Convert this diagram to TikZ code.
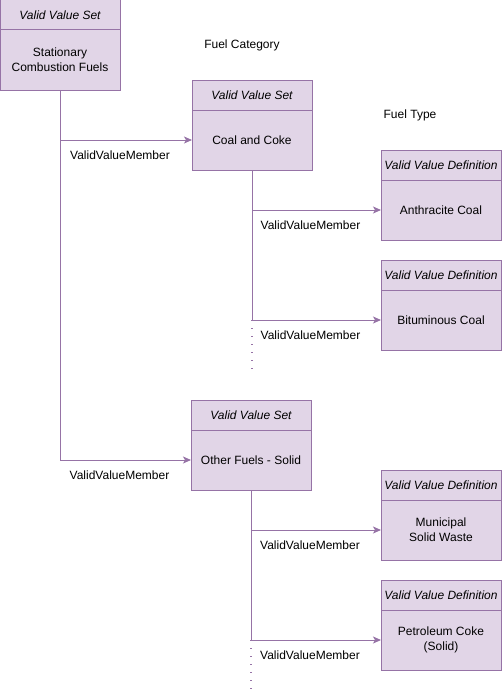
\documentclass[tikz,border=0pt]{standalone}
\usepackage{fontspec}
\setmainfont{Liberation Sans}
\usepackage{xcolor}
\usetikzlibrary{positioning,arrows.meta}
\definecolor{vvfill}{HTML}{E1D5E7}
\definecolor{vvline}{HTML}{9673A6}

\begin{document}
\begin{tikzpicture}[x=1pt, y=1pt,
    every node/.style={font=\fontsize{12}{15}\selectfont},
    hdr/.style={draw=vvline, fill=vvfill, line width=1pt, minimum width=120pt, minimum height=30pt, outer sep=0pt, inner sep=1pt, font=\fontsize{12}{15}\selectfont\itshape},
    body/.style={draw=vvline, fill=vvfill, line width=1pt, minimum width=120pt, minimum height=60pt, outer sep=0pt, align=center},
    member/.style={below=10pt, xshift=-6pt, pos=0.75, inner sep=0pt},
    arrow/.style={draw=vvline, line width=1pt, -{Stealth[length=8pt, width=7pt, inset=2pt]}},
    more/.style={draw=vvline, line width=1.3pt, dash pattern=on 1pt off 7pt},
]
\useasboundingbox (0,0) rectangle (502,-693);

\node[hdr] (stat-h) at (60,-15) {Valid Value Set};
\node[body, below=0pt of stat-h] (stat) {Stationary\\Combustion Fuels};

\node[hdr] (coal-h) at (252,-95) {Valid Value Set};
\node[body, below=0pt of coal-h] (coal) {Coal and Coke};
\node[hdr] (anth-h) at (441,-165) {Valid Value Definition};
\node[body, below=0pt of anth-h] (anth) {Anthracite Coal};
\node[hdr] (bitu-h) at (441,-275) {Valid Value Definition};
\node[body, below=0pt of bitu-h] (bitu) {Bituminous Coal};

\node[hdr] (other-h) at (251,-415) {Valid Value Set};
\node[body, below=0pt of other-h] (other) {Other Fuels - Solid};
\node[hdr] (msw-h) at (441,-485) {Valid Value Definition};
\node[body, below=0pt of msw-h] (msw) {Municipal\\Solid Waste};
\node[hdr] (pcoke-h) at (441,-595) {Valid Value Definition};
\node[body, below=0pt of pcoke-h] (pcoke) {Petroleum Coke\\(Solid)};

\node (cat-lbl) at (242,-45) {Fuel Category};
\node (type-lbl) at (410,-115) {Fuel Type};

% category members
\draw[arrow] (stat.south) |- node[member]{ValidValueMember} (coal.west);
\draw[arrow] (stat.south) |- node[member]{ValidValueMember} (other.west);

% fuel types
\draw[arrow] (coal.south) |- node[member]{ValidValueMember} (anth.west);
\draw[arrow] (coal.south) |- node[member]{ValidValueMember} (bitu.west);
\draw[arrow] (other.south) |- node[member]{ValidValueMember} (msw.west);
\draw[arrow] (other.south) |- node[member]{ValidValueMember} (pcoke.west);

% more members
\coordinate (coal-turn) at (coal.south |- bitu.west);
\path (coal-turn) ++(0,-50) coordinate (coal-tail);
\draw[more] (coal-turn) -- (coal-tail);
\coordinate (other-turn) at (other.south |- pcoke.west);
\path (other-turn) ++(0,-60) coordinate (other-tail);
\draw[more] (other-turn) -- (other-tail);
\end{tikzpicture}
\end{document}
